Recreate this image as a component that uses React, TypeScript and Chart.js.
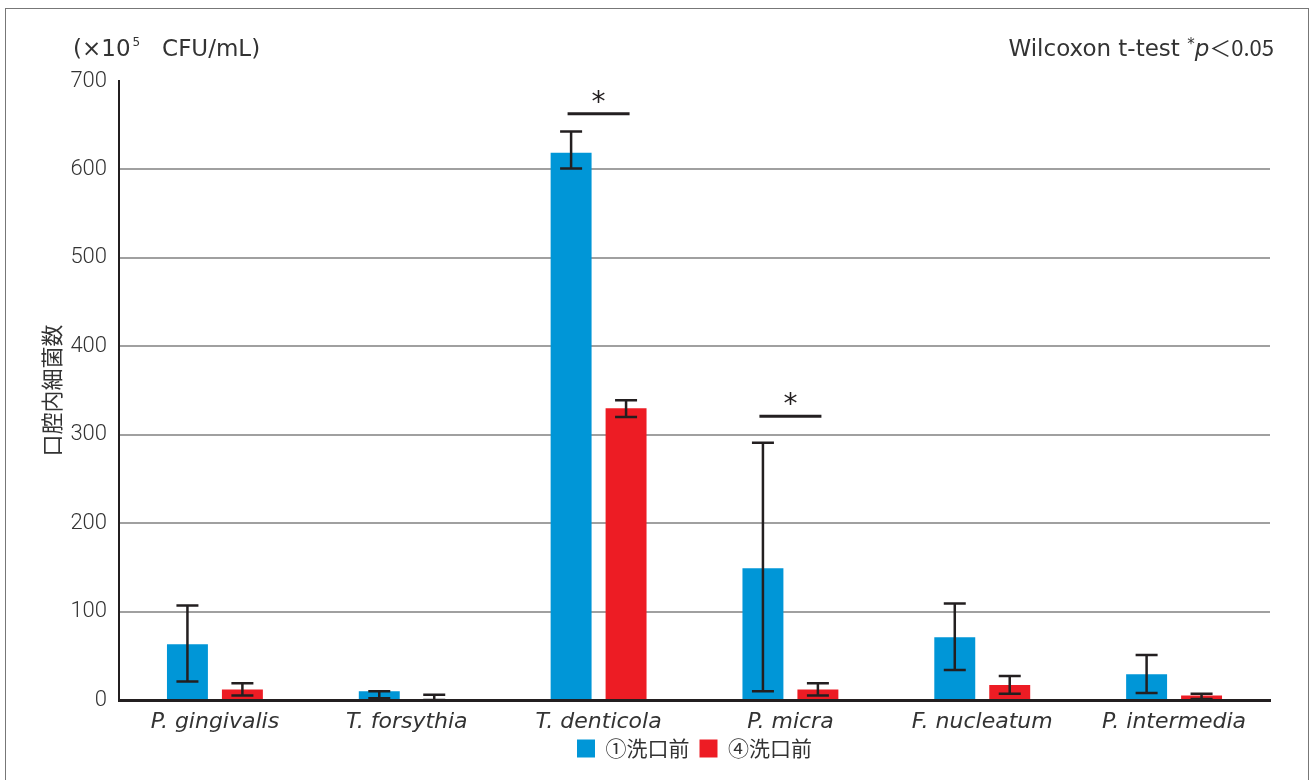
import React, { useEffect, useRef } from "react";
import { Chart, registerables } from "chart.js";

Chart.register(...registerables);

const categories = ["P. gingivalis", "T. forsythia", "T. denticola", "P. micra", "F. nucleatum", "P. intermedia"];
const seriesNames = ["①洗口前", "④洗口前"];
const beforeValues = [63, 10, 619, 149, 71, 29];
const beforeErrLow = [21, 2, 601, 10, 34, 8];
const beforeErrHigh = [107, 10, 643, 291, 109, 51];
const afterValues = [12, 0, 330, 12, 17, 5];
const afterErrLow = [5, 0, 320, 5, 7, 1];
const afterErrHigh = [19, 6, 339, 19, 27, 7];
const sigCategories = [2, 3];
const sigLevels = [663, 321];
const yTickValues = [0, 100, 200, 300, 400, 500, 600, 700];
const yAxisTitle = "口腔内細菌数";
const unitLabel = ["(×10", "5", "   CFU/mL)"];
const testLabel = ["Wilcoxon t-test ", "*", "p", "＜0.05"];

const BLUE = "#0096D7";
const RED = "#ED1C24";
const INK = "#231F20";
const TEXT = "#333333";
const CJK = "'Noto Sans CJK JP', 'Noto Sans', sans-serif";
const SANS = "'DejaVu Sans', sans-serif";
const NUM = "Roboto, 'DejaVu Sans Condensed', sans-serif";

const errLows = [beforeErrLow, afterErrLow];
const errHighs = [beforeErrHigh, afterErrHigh];

const extrasPlugin = {
  id: "extras",
  afterLayout(chart: any) {
    if (chart.legend) {
      chart.legend.top -= 8;
      chart.legend.bottom -= 8;
    }
  },
  afterDatasetsDraw(chart: any) {
    const ctx = chart.ctx as CanvasRenderingContext2D;
    const y = chart.scales.y;
    const x = chart.scales.x;
    ctx.save();
    ctx.strokeStyle = INK;
    ctx.lineWidth = 2.5;
    for (let d = 0; d < 2; d++) {
      const meta = chart.getDatasetMeta(d);
      meta.data.forEach((bar: any, i: number) => {
        const px = bar.x;
        const lo = y.getPixelForValue(errLows[d][i]);
        const hi = y.getPixelForValue(errHighs[d][i]);
        ctx.beginPath();
        ctx.moveTo(px, lo);
        ctx.lineTo(px, hi);
        ctx.moveTo(px - 11, hi);
        ctx.lineTo(px + 11, hi);
        ctx.moveTo(px - 11, lo);
        ctx.lineTo(px + 11, lo);
        ctx.stroke();
      });
    }
    ctx.lineWidth = 3;
    ctx.fillStyle = INK;
    ctx.font = "28px 'DejaVu Sans', sans-serif";
    ctx.textAlign = "center";
    ctx.textBaseline = "middle";
    sigCategories.forEach((c, k) => {
      const cx = x.getPixelForValue(c);
      const py = y.getPixelForValue(sigLevels[k]);
      ctx.beginPath();
      ctx.moveTo(cx - 31, py);
      ctx.lineTo(cx + 31, py);
      ctx.stroke();
      ctx.fillText("*", cx, py - 10);
    });
    ctx.restore();
  },
  afterDraw(chart: any) {
    const ctx = chart.ctx as CanvasRenderingContext2D;
    ctx.save();
    ctx.strokeStyle = "#777";
    ctx.lineWidth = 1;
    ctx.strokeRect(5.5, 8.5, 1303, 800);
    ctx.fillStyle = TEXT;
    ctx.font = "22px " + CJK;
    ctx.textAlign = "center";
    ctx.textBaseline = "middle";
    ctx.translate(52, (chart.chartArea.top + chart.chartArea.bottom) / 2);
    ctx.rotate(-Math.PI / 2);
    ctx.fillText(yAxisTitle, 0, 0);
    ctx.restore();

    ctx.save();
    ctx.fillStyle = TEXT;
    ctx.textBaseline = "alphabetic";
    ctx.textAlign = "left";
    let px = 73;
    const base = 56;
    ctx.font = "23px " + SANS;
    ctx.fillText(unitLabel[0], px, base);
    px += ctx.measureText(unitLabel[0]).width + 2;
    ctx.font = "12px " + SANS;
    ctx.fillText(unitLabel[1], px, base - 10);
    px += ctx.measureText(unitLabel[1]).width;
    ctx.font = "23px " + SANS;
    ctx.fillText(unitLabel[2], px, base);
    const fonts = ["23px " + SANS, "15px " + SANS, "italic 23px " + SANS, "22px " + CJK];
    const offs = [0, -7, 0, 0];
    let total = 0;
    const widths = testLabel.map((t, i) => {
      ctx.font = fonts[i];
      const w = ctx.measureText(t).width;
      total += w;
      return w;
    });
    px = 1274 - total;
    testLabel.forEach((t, i) => {
      ctx.font = fonts[i];
      ctx.fillText(t, px, base + offs[i]);
      px += widths[i];
    });
    ctx.restore();
  },
};

export default function App() {
  const ref = useRef<HTMLCanvasElement | null>(null);
  useEffect(() => {
    if (!ref.current) return;
    const chart = new Chart(ref.current, {
      type: "bar",
      data: {
        labels: categories,
        datasets: [
          { label: seriesNames[0], data: beforeValues, backgroundColor: BLUE, borderWidth: 0 },
          { label: seriesNames[1], data: afterValues, backgroundColor: RED, borderWidth: 0 },
        ],
      },
      options: {
        responsive: false,
        animation: false,
        layout: { padding: { left: 0, right: 44, top: 81, bottom: 3 } },
        datasets: { bar: { categoryPercentage: 0.573, barPercentage: 0.745 } },
        plugins: {
          legend: {
            position: "bottom",
            fullSize: false,
            labels: {
              boxWidth: 18,
              boxHeight: 18,
              padding: 10,
              color: TEXT,
              font: { family: CJK, size: 21 },
            },
          },
          tooltip: { enabled: false },
        },
        scales: {
          x: {
            grid: { display: false, drawTicks: false },
            border: { color: INK, width: 3 },
            ticks: {
              color: TEXT,
              padding: 9,
              font: { family: SANS, size: 22, style: "italic" },
            },
            afterFit: (s: any) => {
              s.height = 36;
            },
          },
          y: {
            min: 0,
            max: 700,
            afterBuildTicks: (s: any) => {
              s.ticks = yTickValues.map((v) => ({ value: v }));
            },
            grid: {
              drawTicks: false,
              lineWidth: 2,
              color: (c: any) => (c.tick && (c.tick.value === 0 || c.tick.value === 700) ? "rgba(0,0,0,0)" : "#A0A0A0"),
            },
            border: { color: INK, width: 2 },
            ticks: {
              color: TEXT,
              padding: 12,
              font: { family: NUM, size: 22, weight: "300" },
            },
            afterFit: (s: any) => {
              s.width = 119;
            },
          },
        },
      },
      plugins: [extrasPlugin],
    });
    return () => chart.destroy();
  }, []);
  return (
    <div style={{ position: "fixed", left: 0, top: 0, width: 1314, height: 780, background: "#fff" }}>
      <canvas ref={ref} width={1314} height={780} style={{ width: 1314, height: 780, display: "block" }} />
    </div>
  );
}
